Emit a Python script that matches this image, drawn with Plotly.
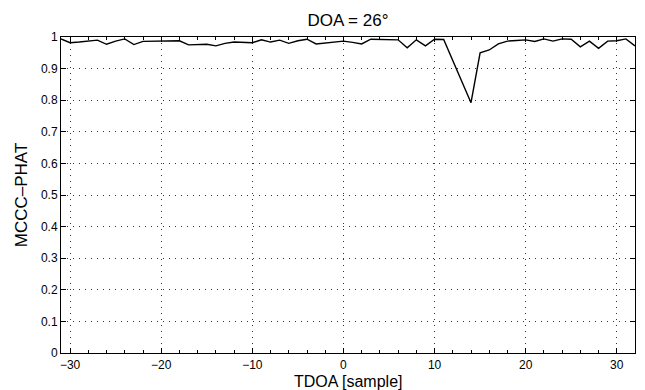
import plotly.graph_objects as go

tdoa = list(range(-31, 33))
mccc_phat = [
    0.994, 0.982, 0.984, 0.986, 0.990, 0.977, 0.987, 0.994, 0.976, 0.986,
    0.987, 0.988, 0.988, 0.988, 0.975, 0.976, 0.977, 0.972, 0.980, 0.984,
    0.983, 0.982, 0.991, 0.984, 0.990, 0.980, 0.988, 0.993, 0.978, 0.981,
    0.984, 0.987, 0.983, 0.978, 0.993, 0.992, 0.992, 0.991, 0.966, 0.991,
    0.972, 0.993, 0.992, 0.925, 0.858, 0.792, 0.950, 0.959, 0.978, 0.987,
    0.989, 0.991, 0.986, 0.994, 0.987, 0.994, 0.993, 0.969, 0.987, 0.964,
    0.987, 0.988, 0.994, 0.972,
]
x_ticks = [-30, -20, -10, 0, 10, 20, 30]
y_ticks = [0, 0.1, 0.2, 0.3, 0.4, 0.5, 0.6, 0.7, 0.8, 0.9, 1]
y_labels = ["0", "0.1", "0.2", "0.3", "0.4", "0.5", "0.6", "0.7", "0.8", "0.9", "1"]

FONT = "Liberation Sans, Arial, Helvetica, sans-serif"
GRID = dict(showgrid=True, gridcolor="#333", griddash="1px,5px", gridwidth=1, zeroline=False)

fig = go.Figure()
fig.add_trace(go.Scatter(x=tdoa, y=mccc_phat, mode="lines",
                         line=dict(color="black", width=1.4), showlegend=False))

fig.update_layout(
    width=645, height=390,
    margin=dict(l=61, r=10, t=37, b=37),
    paper_bgcolor="white", plot_bgcolor="white",
    font=dict(family=FONT, size=12, color="black"),
    title=dict(text="DOA = 26°", x=0.5, xref="paper", xanchor="center",
               y=1 - 20 / 390, yanchor="middle", font=dict(size=17)),
)
fig.add_annotation(text="TDOA [sample]", xref="paper", yref="paper",
                   x=0.5, y=0, xanchor="center", yanchor="top", yshift=-18,
                   showarrow=False, font=dict(size=16))
fig.update_xaxes(
    range=[-31, 32], tickvals=x_ticks, ticks="inside", ticklen=5, tickcolor="black",
    showline=True, linecolor="black", linewidth=1, mirror="ticks", automargin=False,
    minor=dict(dtick=2, tick0=0, ticks="inside", ticklen=3, tickcolor="black", showgrid=False),
    tickfont=dict(size=12), ticklabelstandoff=1,
    **GRID,
)
fig.update_yaxes(
    range=[0, 1], tickvals=y_ticks, ticktext=y_labels, ticks="inside", ticklen=5,
    tickcolor="black",
    showline=True, linecolor="black", linewidth=1, mirror="ticks", automargin=False,
    title=dict(text="MCCC–PHAT", font=dict(size=17), standoff=8),
    tickfont=dict(size=12),
    **GRID,
)

fig.write_html("out.html")
